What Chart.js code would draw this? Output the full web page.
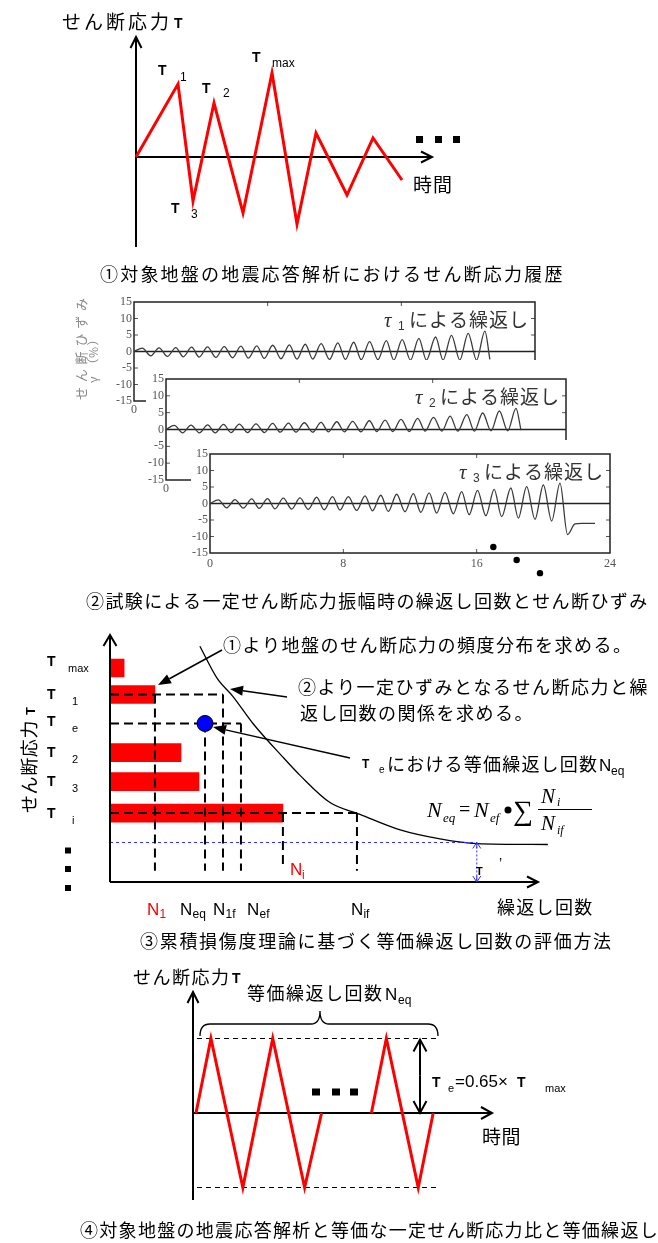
<!DOCTYPE html>
<html lang="ja">
<head>
<meta charset="utf-8">
<title>等価繰返し回数の評価方法</title>
<script src="https://cdn.jsdelivr.net/npm/chart.js@4.4.1/dist/chart.umd.min.js"></script>
<style>
  html, body { margin: 0; padding: 0; background: #fff; }
  #page { position: relative; width: 658px; height: 1243px; overflow: hidden; background: #fff; }
  #page canvas { position: absolute; left: 0; top: 0; }
</style>
</head>
<body>
<div id="page">
  <canvas id="history" width="658" height="1243"></canvas>
  <canvas id="strain1" width="658" height="1243"></canvas>
  <canvas id="strain2" width="658" height="1243"></canvas>
  <canvas id="strain3" width="658" height="1243"></canvas>
  <canvas id="damage" width="658" height="1243"></canvas>
  <canvas id="equiv" width="658" height="1243"></canvas>
</div>
<script>
// ① せん断応力履歴
const historyTime   = [0, 4.2, 5.7, 7.8, 10.7, 13.6, 16.1, 18.0, 21.1, 23.7, 26.6];
const historyStress = [0, 7.3, -4.4, 5.4, -5.6, 8.4, -6.7, 2.4, -3.8, 1.9, -2.3];
const historyTags   = ['', '1', '3', '2', '', 'max', '', '', '', '', ''];

// ② 一定せん断応力振幅の繰返し試験（せん断ひずみ %）
const peakTimes   = [0.5, 1.5, 2.5, 3.45, 4.4, 5.4, 6.4, 7.35, 8.3, 9.3, 10.25, 11.2, 12.2, 13.15, 14.1, 15.1, 16.05, 17.05, 18.05, 19.0, 20.0, 21.0];
const troughTimes = [1.0, 2.0, 2.95, 3.9, 4.9, 5.9, 6.85, 7.8, 8.8, 9.75, 10.7, 11.7, 12.65, 13.6, 14.6, 15.55, 16.55, 17.5, 18.5, 19.5, 20.5, 21.45];
const tau1Peaks   = [1.0, 1.1, 1.2, 1.3, 1.4, 1.5, 1.6, 1.7, 1.9, 2.0, 2.2, 2.4, 2.6, 2.8, 3.0, 3.3, 3.6, 4.0, 4.4, 4.9, 5.5, 6.2];
const tau1Troughs = [-1.3, -1.5, -1.6, -1.7, -1.8, -1.9, -2.0, -2.1, -2.2, -2.3, -2.3, -2.4, -2.4, -2.5, -2.5, -2.6, -2.6, -2.6, -2.6, -2.6, -2.6];
const tau1TailTime = [21.3], tau1TailStrain = [-2.4];
const tau2Peaks   = [1.2, 1.3, 1.4, 1.5, 1.6, 1.7, 1.8, 1.9, 2.0, 2.1, 2.3, 2.4, 2.6, 2.8, 3.0, 3.3, 3.6, 4.0, 4.4, 4.9, 5.5, 6.3];
const tau2Troughs = [-1.0, -1.0, -1.0, -0.9, -0.9, -0.9, -0.8, -0.8, -0.8, -0.7, -0.7, -0.7, -0.6, -0.6, -0.6, -0.5, -0.5, -0.5, -0.5, -0.4, -0.4];
const tau2TailTime = [21.3], tau2TailStrain = [-0.2];
const tau3Peaks   = [1.1, 1.2, 1.4, 1.5, 1.6, 1.7, 1.9, 2.1, 2.1, 2.3, 2.5, 2.8, 3.0, 3.2, 3.4, 3.6, 4.0, 4.3, 4.7, 5.1, 5.6, 6.2];
const tau3Troughs = [-1.3, -1.4, -1.5, -1.6, -1.7, -1.8, -1.9, -2.0, -2.1, -2.2, -2.4, -2.5, -2.7, -2.9, -3.1, -3.4, -3.7, -4.0, -4.4, -4.8, -5.3, -9.4];
const tau3TailTime = [21.9, 22.3, 23.1], tau3TailStrain = [-6.2, -6.0, -6.0];
const stopTime = [17.0, 18.4, 19.8], stopStrain = [-13.2, -17.1, -21.1];

// ③ 累積損傷度理論
const tauRows     = ['max', '1', 'e', '2', '3', 'i'];
const tauLevels   = [90.3, 78.5, 65.6, 52.6, 39.7, 25.7];
const cycleCounts = [3.3, 10.5, null, 16.6, 20.8, 40.4];
const nSubs   = ['1', 'eq', '1f', 'ef', 'if'];
const nValues = [10.5, 22.2, 26.4, 30.6, 57.7];
const nRows   = ['1', 'e', '1', 'e', 'i'];
const snCycles = [21.0, 25.0, 28.7, 33.4, 40.4, 44.4, 51.4, 58.4, 67.8, 77.1, 85.7, 102.3];
const snStress = [100, 85.8, 77.7, 65.6, 50.6, 42.5, 30.4, 25.1, 18.2, 14.2, 12.1, 11.7];
const tauFloor = 12.6, floorCycles = 85.7;

// ④ 等価な一定せん断応力の繰返し
const equivTime   = [0.3, 1.8, 5.0, 8.0, 11.2, 12.9, null, 17.9, 19.4, 22.6, 24.1];
const equivStress = [0, 1, -1, 1, -1, 0, null, 0, 1, -1, 0];
const guideSpan   = [0.4, 24.6];

const W = 658, H = 1243;
const CJK = '"Noto Sans CJK JP", sans-serif';
const SANS = '"Liberation Sans", Arial, sans-serif';
const SERIF = '"Liberation Serif", "Times New Roman", serif';
const TAU = 'Τ';
const base = { responsive: false, animation: false, devicePixelRatio: 1,
  plugins: { legend: { display: false }, tooltip: { enabled: false } } };

function put(ctx, str, x, y, o = {}) {
  ctx.save();
  ctx.font = `${o.style || 'normal'} ${o.weight || 'normal'} ${o.size || 18}px ${o.family || CJK}`;
  ctx.fillStyle = o.color || '#000';
  ctx.textAlign = 'left';
  ctx.textBaseline = 'alphabetic';
  if (o.pitch) [...str].forEach((c, i) => ctx.fillText(c, x + i * o.pitch, y));
  else ctx.fillText(str, x, y);
  ctx.restore();
}
const tau = (ctx, x, y, size = 14) => put(ctx, TAU, x, y, { size, weight: 'bold', family: SANS });
const small = (ctx, s, x, y, size = 11, color) => put(ctx, s, x, y, { size, family: SANS, color });

function openArrow(ctx, x1, y1, x2, y2, len, half) {
  const a = Math.atan2(y2 - y1, x2 - x1);
  ctx.beginPath();
  ctx.moveTo(x1, y1); ctx.lineTo(x2, y2);
  ctx.moveTo(x2 - len * Math.cos(a) + half * Math.sin(a), y2 - len * Math.sin(a) - half * Math.cos(a));
  ctx.lineTo(x2, y2);
  ctx.lineTo(x2 - len * Math.cos(a) - half * Math.sin(a), y2 - len * Math.sin(a) + half * Math.cos(a));
  ctx.stroke();
}
function solidArrow(ctx, x1, y1, x2, y2, len = 13, half = 5) {
  const a = Math.atan2(y2 - y1, x2 - x1);
  const bx = x2 - len * Math.cos(a), by = y2 - len * Math.sin(a);
  ctx.beginPath(); ctx.moveTo(x1, y1); ctx.lineTo(bx, by); ctx.stroke();
  ctx.beginPath();
  ctx.moveTo(x2, y2);
  ctx.lineTo(bx + half * Math.sin(a), by - half * Math.cos(a));
  ctx.lineTo(bx - half * Math.sin(a), by + half * Math.cos(a));
  ctx.closePath(); ctx.fill();
}
function squares(ctx, pts, w, h) {
  ctx.fillStyle = '#000';
  pts.forEach(([x, y]) => ctx.fillRect(x - w / 2, y - h / 2, w, h));
}

// ---------- ① ----------
const tagOffsets = { '1': [-20, -9, 2, -3], '2': [-12, -10, 9, -6], 'max': [-20, -11, 0, -6], '3': [-22, 12, -2, 17] };
new Chart(document.getElementById('history'), {
  type: 'line',
  data: { datasets: [{ data: historyTime.map((t, i) => ({ x: t, y: historyStress[i] })),
    borderColor: '#ff0000', borderWidth: 3, pointRadius: 0, tension: 0, clip: false }] },
  options: { ...base,
    layout: { padding: { left: 136, top: 37, right: W - 432, bottom: H - 247 } },
    scales: { x: { type: 'linear', display: false, min: 0, max: 29.6 }, y: { display: false, min: -9, max: 12 } } },
  plugins: [{
    id: 'historyDeco',
    beforeDatasetsDraw(chart) {
      const { ctx, chartArea: a, scales: { x, y } } = chart;
      ctx.save(); ctx.strokeStyle = '#000'; ctx.lineWidth = 2;
      openArrow(ctx, x.getPixelForValue(0), a.bottom, x.getPixelForValue(0), a.top, 11, 5.5);
      openArrow(ctx, a.left, y.getPixelForValue(0), a.right, y.getPixelForValue(0), 11, 5.5);
      ctx.restore();
    },
    afterDraw(chart) {
      const { ctx, scales: { x, y } } = chart;
      put(ctx, 'せん断応力', 62, 29, { size: 19, pitch: 22 });
      tau(ctx, 174, 28);
      historyTags.forEach((tag, i) => {
        if (!tag) return;
        const px = x.getPixelForValue(historyTime[i]), py = y.getPixelForValue(historyStress[i]);
        const o = tagOffsets[tag];
        tau(ctx, px + o[0], py + o[1]);
        small(ctx, tag, px + o[2], py + o[3], 12);
      });
      squares(ctx, [[419.5, 139.5], [438.5, 139.5], [456.5, 139.5]], 7, 7);
      put(ctx, '時間', 413, 192, { size: 19, pitch: 20 });
      put(ctx, '①対象地盤の地震応答解析におけるせん断応力履歴', 100, 281, { size: 18, pitch: 20.2 });
    }
  }]
});

// ---------- ② ----------
function wavePoints(peaks, troughs, tailT, tailV) {
  const pts = [{ x: 0, y: 0 }];
  peaks.forEach((p, i) => {
    pts.push({ x: peakTimes[i], y: p });
    if (i < troughs.length) pts.push({ x: troughTimes[i], y: troughs[i] });
  });
  tailT.forEach((t, i) => pts.push({ x: t, y: tailV[i] }));
  return pts;
}

function strainChart(id, box, points, digit, extra = {}) {
  const tickFont = { family: SERIF, size: 12 };
  new Chart(document.getElementById(id), {
    type: 'line',
    data: { datasets: [{ data: points, borderColor: '#3a3a3a', borderWidth: 1.3,
      pointRadius: 0, cubicInterpolationMode: 'monotone', clip: false }] },
    options: { ...base,
      layout: { padding: { left: box.l - box.yw, top: box.t, right: W - box.r, bottom: H - box.b - box.xh } },
      scales: {
        x: { type: 'linear', min: 0, max: 24, afterFit: s => { s.height = box.xh; },
          grid: { display: false, drawTicks: false }, border: { display: false },
          ticks: { stepSize: 8, autoSkip: false, font: tickFont, color: '#555', padding: box.xpad, maxRotation: 0 } },
        y: { type: 'linear', min: -15, max: 15, afterFit: s => { s.width = box.yw; },
          grid: { display: false, drawTicks: false }, border: { display: false },
          ticks: { stepSize: 5, autoSkip: false, font: tickFont, color: '#555', padding: 2 } }
      } },
    plugins: [{
      id: 'frame' + digit,
      beforeDraw(chart) {
        if (!extra.cover) return;
        const ctx = chart.ctx, c = extra.cover;
        ctx.save(); ctx.fillStyle = '#fff'; ctx.fillRect(c[0], c[1], c[2] - c[0], c[3] - c[1]); ctx.restore();
      },
      beforeDatasetsDraw(chart) {
        const { ctx, chartArea: a, scales: { x, y } } = chart;
        ctx.save();
        ctx.strokeStyle = '#555'; ctx.lineWidth = 1;
        ctx.beginPath();
        [8, 16].forEach(v => {
          const px = x.getPixelForValue(v);
          ctx.moveTo(px, a.top); ctx.lineTo(px, a.top + 4);
          ctx.moveTo(px, a.bottom); ctx.lineTo(px, a.bottom - 4);
        });
        [-10, -5, 5, 10].forEach(v => {
          const py = y.getPixelForValue(v);
          ctx.moveTo(a.left, py); ctx.lineTo(a.left + 4, py);
          ctx.moveTo(a.right, py); ctx.lineTo(a.right - 4, py);
        });
        ctx.stroke();
        ctx.strokeStyle = '#222'; ctx.lineWidth = 1.5;
        ctx.strokeRect(a.left, a.top, a.right - a.left, a.bottom - a.top);
        ctx.beginPath();
        ctx.moveTo(a.left, y.getPixelForValue(0)); ctx.lineTo(a.right, y.getPixelForValue(0));
        ctx.stroke();
        ctx.restore();
      },
      afterDraw(chart) {
        const { ctx, chartArea: a, scales: { x, y } } = chart;
        if (extra.stopT) {
          ctx.save(); ctx.fillStyle = '#000';
          extra.stopT.forEach((t, i) => {
            ctx.beginPath();
            ctx.arc(x.getPixelForValue(t), y.getPixelForValue(extra.stopV[i]), 3.2, 0, Math.PI * 2);
            ctx.fill();
          });
          ctx.restore();
        }
        put(ctx, 'τ', a.right - 151, a.top + 25, { size: 21, style: 'italic', family: SERIF, color: '#333' });
        put(ctx, digit, a.right - 137, a.top + 28, { size: 12, family: SANS, color: '#333' });
        put(ctx, 'による繰返し', a.right - 126, a.top + 25, { size: 19, pitch: 20, color: '#333' });
        if (extra.title) {
          ctx.save(); ctx.translate(86, 400); ctx.rotate(-Math.PI / 2);
          put(ctx, 'せん断ひずみ', 0, 0, { size: 13, pitch: 17.8, color: '#8a8a8a' });
          ctx.restore();
          ctx.save(); ctx.translate(98, 383); ctx.rotate(-Math.PI / 2);
          put(ctx, 'γ（%）', 0, 0, { size: 12, pitch: 12.5, color: '#8a8a8a' });
          ctx.restore();
        }
        if (extra.caption) put(ctx, '②試験による一定せん断応力振幅時の繰返し回数とせん断ひずみ', 86, 608, { size: 18, pitch: 19.4 });
      }
    }]
  });
}

strainChart('strain1', { l: 134, t: 302, r: 535, b: 401, yw: 30, xh: 14, xpad: 2 },
  wavePoints(tau1Peaks, tau1Troughs, tau1TailTime, tau1TailStrain), '1', { title: true });
strainChart('strain2', { l: 166, t: 379, r: 566, b: 480, yw: 22, xh: 14, xpad: 2 },
  wavePoints(tau2Peaks, tau2Troughs, tau2TailTime, tau2TailStrain), '2', { cover: [146, 360, 585, 494] });
strainChart('strain3', { l: 210, t: 454, r: 610, b: 553, yw: 22, xh: 18, xpad: 4 },
  wavePoints(tau3Peaks, tau3Troughs, tau3TailTime, tau3TailStrain), '3',
  { cover: [191, 440, 630, 590], caption: true, stopT: stopTime, stopV: stopStrain });

// ---------- ③ ----------
const level = r => tauLevels[tauRows.indexOf(r)];
const dash = (pts) => ({ type: 'line', data: pts, borderColor: '#000', borderWidth: 2, borderDash: [9, 5],
  pointRadius: 0, tension: 0, clip: false, order: 1 });
const guideSets = [];
[...new Set(nRows)].forEach(r => {
  const far = Math.max(...nValues.filter((v, i) => nRows[i] === r));
  guideSets.push(dash([{ x: 0, y: level(r) }, { x: far, y: level(r) }]));
});
nValues.forEach((v, i) => guideSets.push(dash([{ x: v, y: level(nRows[i]) }, { x: v, y: 0 }])));
const iRow = tauRows.indexOf('i');
guideSets.push(dash([{ x: cycleCounts[iRow], y: tauLevels[iRow] }, { x: cycleCounts[iRow], y: 2 }]));

const nLabelShift = [-8, -25, -10, 6, -6];
const rowLabelDy = [-2, 4, 3, 4, 4, 4.5];

new Chart(document.getElementById('damage'), {
  type: 'scatter',
  data: { datasets: [
    { type: 'scatter', data: [{ x: nValues[1], y: level('e') }], pointRadius: 8,
      backgroundColor: '#0000ff', borderColor: '#000', borderWidth: 1, clip: false, order: 0 },
    ...guideSets,
    { type: 'line', data: [{ x: 0, y: tauFloor }, { x: floorCycles, y: tauFloor }], borderColor: '#3030ff',
      borderWidth: 1, borderDash: [3, 3], pointRadius: 0, clip: false, order: 1 },
    { type: 'line', data: snCycles.map((c, i) => ({ x: c, y: snStress[i] })), borderColor: '#000',
      borderWidth: 1.3, pointRadius: 0, cubicInterpolationMode: 'monotone', clip: false, order: 2 },
    { type: 'bar', indexAxis: 'y', data: tauLevels.map((l, i) => ({ x: cycleCounts[i], y: l })).filter(d => d.x !== null),
      backgroundColor: '#ff0000', borderWidth: 0, barThickness: 18, order: 3 }
  ] },
  options: { ...base,
    layout: { padding: { left: 110, top: 635, right: W - (110 + 105 * 4.28), bottom: H - 882 } },
    scales: { x: { type: 'linear', display: false, min: 0, max: 105 }, y: { type: 'linear', display: false, min: 0, max: 100 } } },
  plugins: [{
    id: 'damageDeco',
    afterDatasetsDraw(chart) {
      const { ctx, chartArea: a, scales: { x, y } } = chart;
      ctx.save();
      ctx.strokeStyle = '#000'; ctx.fillStyle = '#000'; ctx.lineWidth = 2;
      openArrow(ctx, a.left, a.bottom, a.left, a.top, 11, 6.5);
      openArrow(ctx, a.left, a.bottom, x.getPixelForValue(100), a.bottom, 11, 5.5);
      // τ' の矢印
      const fx = x.getPixelForValue(floorCycles), fy = y.getPixelForValue(tauFloor);
      ctx.strokeStyle = '#3030ff'; ctx.lineWidth = 1; ctx.setLineDash([2, 2]);
      ctx.beginPath(); ctx.moveTo(fx, fy); ctx.lineTo(fx, a.bottom); ctx.stroke();
      ctx.setLineDash([]);
      openArrow(ctx, fx, fy + 6, fx, fy, 6, 4);
      openArrow(ctx, fx, a.bottom - 6, fx, a.bottom, 6, 4);
      // 注記の矢印
      ctx.strokeStyle = '#000'; ctx.lineWidth = 1.5;
      solidArrow(ctx, 222, 650, 158, 685);
      solidArrow(ctx, 287, 697, 230, 689);
      solidArrow(ctx, 350, 758, 213, 727);
      ctx.restore();

      tauRows.forEach((r, i) => {
        const py = y.getPixelForValue(tauLevels[i]) + rowLabelDy[i];
        tau(ctx, 47, py);
        small(ctx, r, r === 'max' ? 68 : 72, py + 6, 11);
      });
      squares(ctx, [[68, 850.5], [68, 869], [68, 888]], 6, 6);
      nValues.forEach((v, i) => {
        const lx = x.getPixelForValue(v) + nLabelShift[i];
        const col = i === 0 ? '#ff0000' : '#000';
        small(ctx, 'N', lx, 915, 17, col);
        small(ctx, nSubs[i], lx + 12.5, 918, 12, col);
      });
      const nix = x.getPixelForValue(cycleCounts[iRow]);
      small(ctx, 'N', nix + 7, 875, 17, '#ff0000');
      small(ctx, 'i', nix + 19, 879, 12, '#ff0000');
      put(ctx, '繰返し回数', 497, 914, { size: 18, pitch: 19.3 });

      ctx.save(); ctx.translate(36, 813); ctx.rotate(-Math.PI / 2);
      put(ctx, 'せん断応力', 0, 0, { size: 18, pitch: 18.6 });
      tau(ctx, 98, -1, 13);
      ctx.restore();

      put(ctx, '①より地盤のせん断応力の頻度分布を求める。', 223, 652, { size: 18, pitch: 19.5 });
      put(ctx, '②より一定ひずみとなるせん断応力と繰', 298, 694, { size: 18, pitch: 19.5 });
      put(ctx, '返し回数の関係を求める。', 300, 720, { size: 18, pitch: 19.5 });
      tau(ctx, 362, 768, 12);
      small(ctx, 'e', 379, 773, 10);
      put(ctx, 'における等価繰返し回数', 387, 771, { size: 18, pitch: 19.2 });
      small(ctx, 'N', 599, 771, 17);
      small(ctx, 'eq', 611, 775, 12);

      // N_eq = N_ef ・Σ N_i / N_if
      const it = { style: 'italic', family: SERIF };
      put(ctx, 'N', 427, 817, { ...it, size: 22 });
      put(ctx, 'eq', 443, 822, { ...it, size: 13 });
      put(ctx, '=', 459, 816, { size: 20, family: SERIF });
      put(ctx, 'N', 474, 817, { ...it, size: 22 });
      put(ctx, 'ef', 490, 822, { ...it, size: 13 });
      ctx.beginPath(); ctx.arc(508, 810, 3.5, 0, Math.PI * 2); ctx.fill();
      put(ctx, '∑', 513, 820, { size: 28, family: SERIF });
      put(ctx, 'N', 541, 803, { ...it, size: 21 });
      put(ctx, 'i', 557, 806, { ...it, size: 12 });
      ctx.save(); ctx.lineWidth = 1; ctx.beginPath(); ctx.moveTo(538, 809.5); ctx.lineTo(592, 809.5); ctx.stroke(); ctx.restore();
      put(ctx, 'N', 541, 830, { ...it, size: 21 });
      put(ctx, 'if', 557, 834, { ...it, size: 12 });

      tau(ctx, 476, 875, 11);
      put(ctx, '’', 499, 868, { size: 14, family: SANS });
      put(ctx, '③累積損傷度理論に基づく等価繰返し回数の評価方法', 140, 948, { size: 18, pitch: 19.7 });
    }
  }]
});

// ---------- ④ ----------
const gapAt = equivTime.indexOf(null);
const equivSeg = (from, to) => ({ type: 'line', borderColor: '#ff0000', borderWidth: 3, pointRadius: 0, tension: 0, clip: false,
  data: equivTime.slice(from, to).map((t, i) => ({ x: t, y: equivStress[from + i] })) });
const levelLine = v => ({ type: 'line', borderColor: '#000', borderWidth: 1, borderDash: [5, 4], pointRadius: 0, clip: false,
  data: guideSpan.map(t => ({ x: t, y: v })) });

new Chart(document.getElementById('equiv'), {
  type: 'line',
  data: { datasets: [equivSeg(0, gapAt), equivSeg(gapAt + 1, equivTime.length), levelLine(1), levelLine(-1)] },
  options: { ...base,
    layout: { padding: { left: 193, top: 992, right: W - 492, bottom: H - 1200 } },
    scales: { x: { type: 'linear', display: false, min: 0, max: 30 },
              y: { type: 'linear', display: false, min: -(1200 - 1113) / 74.5, max: (1113 - 992) / 74.5 } } },
  plugins: [{
    id: 'equivDeco',
    beforeDatasetsDraw(chart) {
      const { ctx, chartArea: a, scales: { x, y } } = chart;
      ctx.save(); ctx.strokeStyle = '#000'; ctx.lineWidth = 2;
      openArrow(ctx, a.left, a.bottom, a.left, a.top, 11, 5.5);
      openArrow(ctx, a.left, y.getPixelForValue(0), a.right, y.getPixelForValue(0), 11, 6);
      ctx.restore();
    },
    afterDraw(chart) {
      const { ctx, scales: { y } } = chart;
      ctx.save();
      ctx.strokeStyle = '#000'; ctx.lineWidth = 1.3;
      ctx.beginPath();
      ctx.moveTo(200, 1036); ctx.quadraticCurveTo(200, 1024, 210, 1024);
      ctx.lineTo(311, 1024); ctx.quadraticCurveTo(320, 1024, 320, 1011);
      ctx.quadraticCurveTo(320, 1024, 329, 1024);
      ctx.lineTo(428, 1024); ctx.quadraticCurveTo(438, 1024, 438, 1036);
      ctx.stroke();
      ctx.lineWidth = 2;
      const top = y.getPixelForValue(1), zero = y.getPixelForValue(0);
      openArrow(ctx, 420, (top + zero) / 2, 420, top + 1, 12, 6.5);
      openArrow(ctx, 420, (top + zero) / 2, 420, zero, 12, 6.5);
      ctx.restore();
      put(ctx, 'せん断応力', 133, 984, { size: 18, pitch: 19.5 });
      tau(ctx, 232, 983);
      put(ctx, '等価繰返し回数', 247, 1000, { size: 18, pitch: 19.5 });
      small(ctx, 'N', 385, 1000, 17);
      small(ctx, 'eq', 398, 1004, 12);
      tau(ctx, 432, 1087);
      small(ctx, 'e', 448, 1092, 11);
      small(ctx, '=0.65×', 455, 1087, 17);
      tau(ctx, 517, 1087);
      small(ctx, 'max', 545, 1092, 11);
      squares(ctx, [[316, 1092], [336, 1092], [354, 1092]], 8, 7);
      put(ctx, '時間', 482, 1144, { size: 19, pitch: 19.5 });
      put(ctx, '④対象地盤の地震応答解析と等価な一定せん断応力比と等価繰返し', 80, 1237, { size: 18, pitch: 19.3 });
    }
  }]
});
</script>
</body>
</html>
